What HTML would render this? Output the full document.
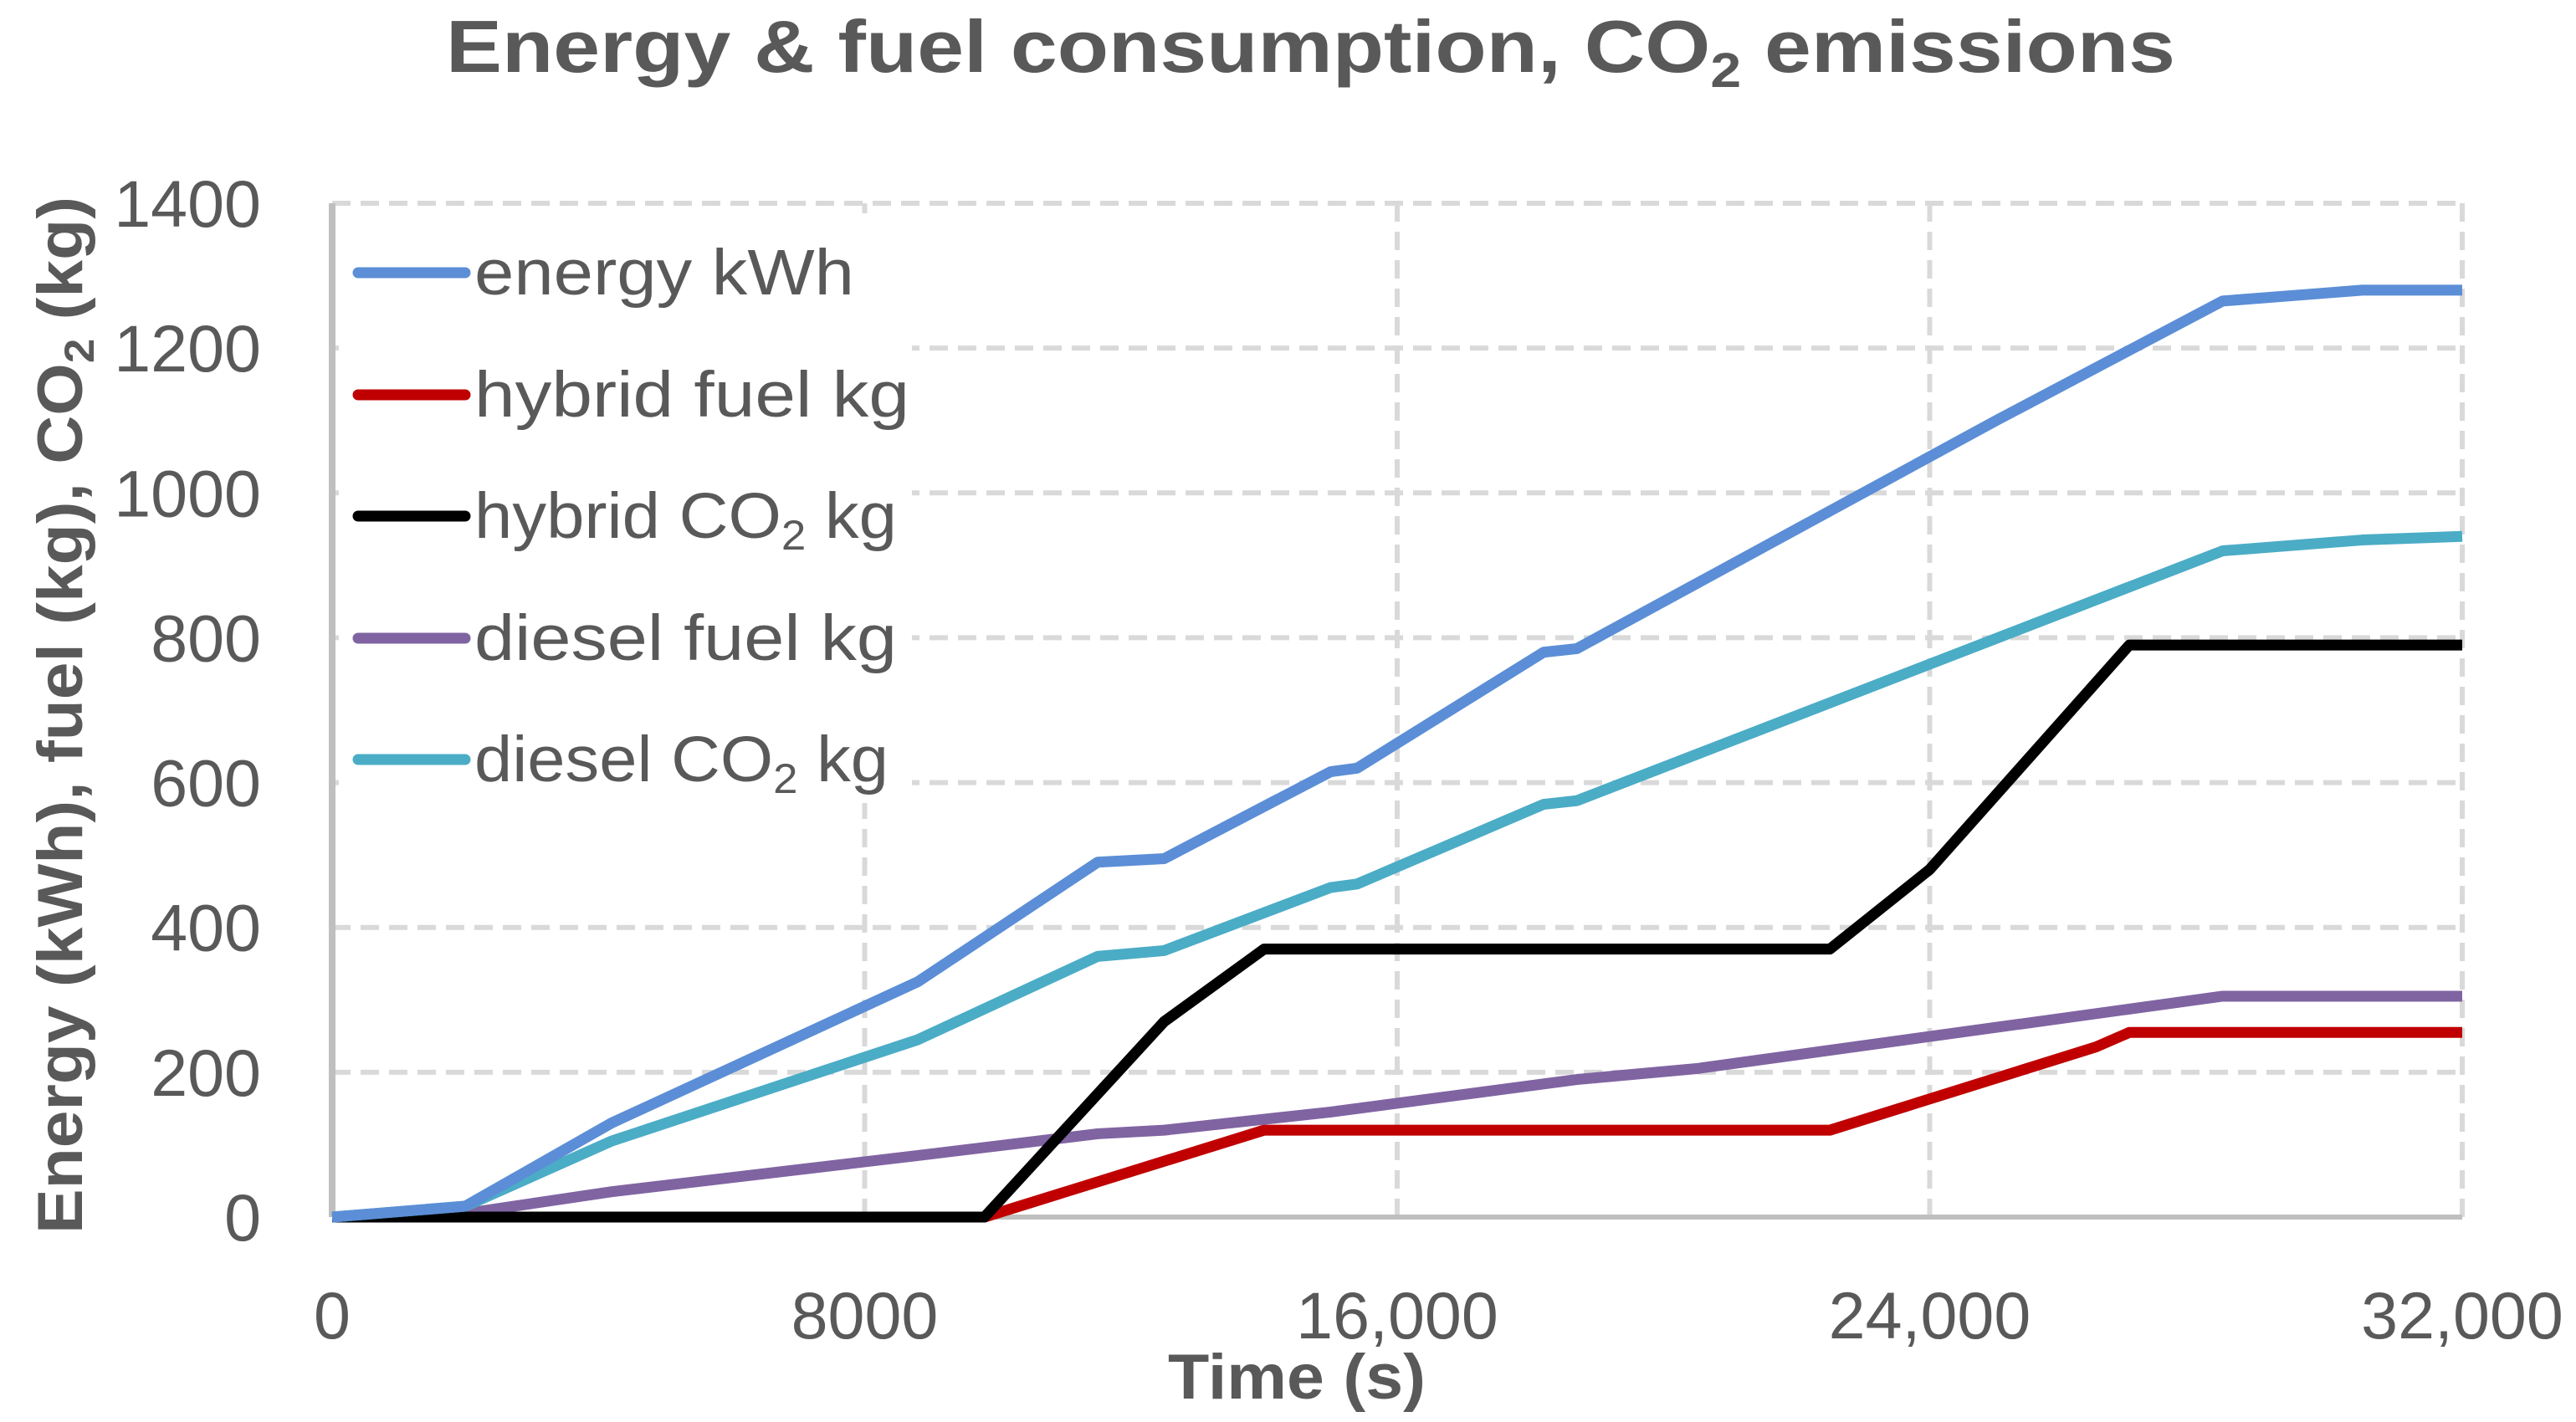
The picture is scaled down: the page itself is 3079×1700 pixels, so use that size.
<!DOCTYPE html>
<html><head><meta charset="utf-8"><style>
html,body{margin:0;padding:0;background:#fff;}
svg{display:block;font-family:"Liberation Sans",sans-serif;}
</style></head><body>
<svg id="chart" width="3079" height="1700" viewBox="0 0 3079 1700" xmlns="http://www.w3.org/2000/svg">
<rect width="3079" height="1700" fill="#fff"/>
<text x="533" y="86" font-size="88" font-weight="bold" fill="#595959" textLength="2067" lengthAdjust="spacingAndGlyphs">Energy &amp; fuel consumption, CO<tspan font-size="58" dy="18">2</tspan><tspan dy="-18"> emissions</tspan></text>
<g id="grid"></g>
<g id="axes"></g>
<g id="series"></g>
<g id="legend"></g>
<text x="1550" y="1672" font-size="76" font-weight="bold" fill="#595959" text-anchor="middle" textLength="308" lengthAdjust="spacingAndGlyphs">Time (s)</text>
<text transform="translate(98,855) rotate(-90)" font-size="76" font-weight="bold" fill="#595959" text-anchor="middle" textLength="1240" lengthAdjust="spacingAndGlyphs">Energy (kWh), fuel (kg), CO<tspan font-size="50" dy="14">2</tspan><tspan dy="-14"> (kg)</tspan></text>
</svg>
<script>
const xTicks = [0, 8000, 16000, 24000, 32000];
const xTickLabels = ["0", "8000", "16,000", "24,000", "32,000"];
const yTicks = [0, 200, 400, 600, 800, 1000, 1200, 1400];
const seriesNames = ["energy kWh", "hybrid fuel kg", "hybrid CO2 kg", "diesel fuel kg", "diesel CO2 kg"];
const energyT = [0, 2000, 4200, 8800, 11500, 12500, 15000, 15400, 18200, 18700, 25000, 28400, 30500, 32000];
const energyV = [0, 15, 130, 325, 490, 495, 615, 620, 780, 785, 1100, 1265, 1280, 1280];
const dieselCO2T = [0, 2000, 4200, 8800, 11500, 12500, 15000, 15400, 18200, 18700, 28400, 30500, 32000];
const dieselCO2V = [0, 15, 105, 245, 360, 368, 455, 460, 570, 575, 920, 935, 940];
const dieselFuelT = [0, 2000, 4200, 8800, 11500, 12500, 15000, 18700, 20500, 28400, 32000];
const dieselFuelV = [0, 5, 35, 85, 115, 120, 145, 190, 205, 305, 305];
const hybridCO2T = [0, 9800, 12500, 14000, 22500, 24000, 27000, 32000];
const hybridCO2V = [0, 0, 270, 370, 370, 480, 790, 790];
const hybridFuelT = [0, 9800, 14000, 22500, 26500, 27000, 32000];
const hybridFuelV = [0, 0, 120, 120, 235, 255, 255];

const NS = "http://www.w3.org/2000/svg";
const L = 397, R = 2943, T = 243, B = 1455;
const xScale = t => L + (t / 32000) * (R - L);
const yScale = v => B - (v / 1400) * (B - T);
function mk(tag, attrs, parent){const e=document.createElementNS(NS,tag);for(const k in attrs)e.setAttribute(k,attrs[k]);parent.appendChild(e);return e;}
const grid=document.getElementById('grid'), axes=document.getElementById('axes'), ser=document.getElementById('series'), leg=document.getElementById('legend');

yTicks.forEach(v=>{
  if(v>0){const g=mk('line',{x1:L,x2:R,y1:yScale(v),y2:yScale(v),stroke:'#d9d9d9','stroke-width':6,'stroke-dasharray':'22 12'},grid);
  
  }
  const t=mk('text',{x:312,y:yScale(v)+28,'font-size':79,fill:'#595959','text-anchor':'end'},axes);
  t.textContent=v;
  
  
});
xTicks.forEach((v,i)=>{
  if(v>0){const g=mk('line',{x1:xScale(v),x2:xScale(v),y1:T,y2:B,stroke:'#d9d9d9','stroke-width':6,'stroke-dasharray':'22 12'},grid);
  
  }
  const t=mk('text',{x:xScale(v),y:1600,'font-size':79,fill:'#595959','text-anchor':'middle'},axes);
  t.textContent=xTickLabels[i];
  
  
});
const ya=mk('line',{x1:L,x2:L,y1:T,y2:B,stroke:'#bfbfbf','stroke-width':8},axes);


const xa=mk('line',{x1:L,x2:R,y1:B,y2:B,stroke:'#bfbfbf','stroke-width':6},axes);



const colors=['#5B8ED6','#C00000','#000000','#8064A2','#4BACC6'];
const data=[[energyT,energyV],[hybridFuelT,hybridFuelV],[hybridCO2T,hybridCO2V],[dieselFuelT,dieselFuelV],[dieselCO2T,dieselCO2V]];
const order=[3,1,2,4,0];
const lineNames=['energy-line','hybrid-fuel-line','hybrid-co2-line','diesel-fuel-line','diesel-co2-line'];
order.forEach(i=>{
  const [ts,vs]=data[i];
  const p=mk('polyline',{points:ts.map((t,k)=>xScale(t)+','+yScale(vs[k])).join(' '),fill:'none',stroke:colors[i],'stroke-width':13,'stroke-linejoin':'round'},ser);
  
  
});

const bg=mk('rect',{x:405,y:255,width:685,height:705,fill:'#fff'},leg);


const legY=[326,472,617,763,908];
const legW=[454,520,505,505,495];
seriesNames.forEach((n,i)=>{
  const g=mk('g',{},leg);
  
  
  mk('line',{x1:428,x2:556,y1:legY[i],y2:legY[i],stroke:colors[i],'stroke-width':13,'stroke-linecap':'round'},g);
  const t=mk('text',{x:567,y:legY[i]+26,'font-size':77,fill:'#595959',textLength:legW[i],lengthAdjust:'spacingAndGlyphs'},g);
  if(n.indexOf('CO2')>=0){
    const parts=n.split('CO2');
    t.appendChild(document.createTextNode(parts[0]+'CO'));
    const s=mk('tspan',{'font-size':50,dy:14},t); s.textContent='2';
    const r=mk('tspan',{dy:-14},t); r.textContent=parts[1];
  } else t.textContent=n;
});
</script>
</body></html>
